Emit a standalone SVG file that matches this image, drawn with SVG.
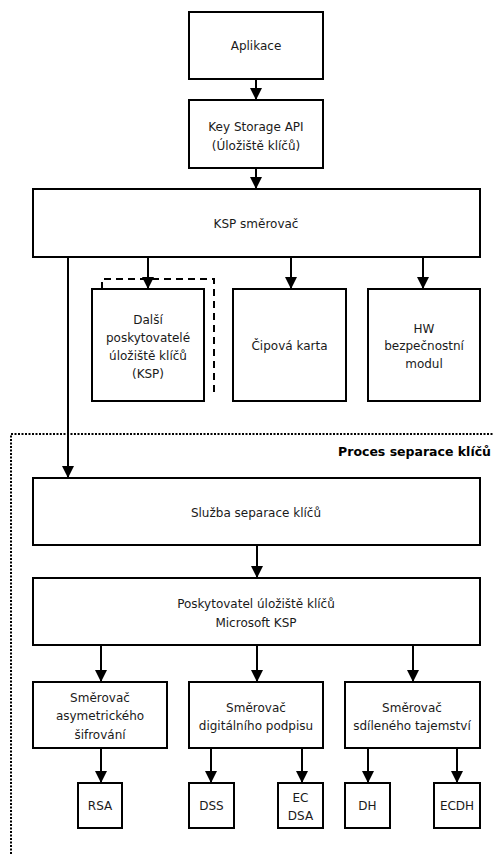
<svg xmlns="http://www.w3.org/2000/svg" width="493" height="854" viewBox="0 0 493 854">
  <style>
    .box { fill: #ffffff; stroke: #000000; stroke-width: 2; }
    .lbl { font-family: "DejaVu Sans", Verdana, sans-serif; font-size: 12px; fill: #1a1a1a; text-anchor: middle; }
    .conn { fill: none; stroke: #000000; stroke-width: 2; }
    .title { font-family: "DejaVu Sans", Verdana, sans-serif; font-size: 12.5px; font-weight: bold; fill: #000000; text-anchor: end; }
  </style>
  <defs>
    <marker id="arrow" viewBox="0 0 12 12" refX="12" refY="6" markerWidth="12" markerHeight="12" markerUnits="userSpaceOnUse" orient="auto">
      <path d="M0,0 L12,6 L0,12 Z" fill="#000000"/>
    </marker>
  </defs>

  <!-- dotted boundary of the separation process -->
  <g id="process-boundary">
    <path d="M11,854 L11,434 L493,434" fill="none" stroke="#000000" stroke-width="2" stroke-dasharray="2,1.5"/>
    <text class="title" x="491" y="456">Proces separace klíčů</text>
  </g>

  <!-- dashed outline behind the other providers -->
  <g id="other-providers-outline">
    <path d="M102,289 L102,279 L214,279 L214,392" fill="none" stroke="#000000" stroke-width="2" stroke-dasharray="7,5"/>
  </g>

  <g id="connectors">
    <line class="conn" x1="256" y1="79" x2="256" y2="100" marker-end="url(#arrow)"/>
    <line class="conn" x1="256" y1="168" x2="256" y2="189" marker-end="url(#arrow)"/>
    <line class="conn" x1="148" y1="257" x2="148" y2="289" marker-end="url(#arrow)"/>
    <line class="conn" x1="291" y1="257" x2="291" y2="289" marker-end="url(#arrow)"/>
    <line class="conn" x1="423" y1="257" x2="423" y2="289" marker-end="url(#arrow)"/>
    <line class="conn" x1="68" y1="257" x2="68" y2="478" marker-end="url(#arrow)"/>
    <line class="conn" x1="257" y1="545" x2="257" y2="578" marker-end="url(#arrow)"/>
    <line class="conn" x1="101" y1="645" x2="101" y2="682" marker-end="url(#arrow)"/>
    <line class="conn" x1="257" y1="645" x2="257" y2="682" marker-end="url(#arrow)"/>
    <line class="conn" x1="413" y1="645" x2="413" y2="682" marker-end="url(#arrow)"/>
    <line class="conn" x1="101" y1="748" x2="101" y2="783" marker-end="url(#arrow)"/>
    <line class="conn" x1="211" y1="748" x2="211" y2="783" marker-end="url(#arrow)"/>
    <line class="conn" x1="302" y1="748" x2="302" y2="783" marker-end="url(#arrow)"/>
    <line class="conn" x1="368" y1="748" x2="368" y2="783" marker-end="url(#arrow)"/>
    <line class="conn" x1="457" y1="748" x2="457" y2="783" marker-end="url(#arrow)"/>
  </g>

  <g id="aplikace">
    <rect class="box" x="189" y="12" width="134" height="67"/>
    <text class="lbl" x="256" y="50">Aplikace</text>
  </g>

  <g id="key-storage-api">
    <rect class="box" x="189" y="100" width="134" height="68"/>
    <text class="lbl" x="256" y="131">Key Storage API</text>
    <text class="lbl" x="256" y="150">(Úložiště klíčů)</text>
  </g>

  <g id="ksp-router">
    <rect class="box" x="33" y="189" width="447" height="68"/>
    <text class="lbl" x="256" y="228">KSP směrovač</text>
  </g>

  <g id="other-providers">
    <rect class="box" x="92" y="289" width="112" height="112"/>
    <text class="lbl" x="148" y="324">Další</text>
    <text class="lbl" x="148" y="342">poskytovatelé</text>
    <text class="lbl" x="148" y="360">úložiště klíčů</text>
    <text class="lbl" x="148" y="378">(KSP)</text>
  </g>

  <g id="smart-card">
    <rect class="box" x="233" y="289" width="113" height="112"/>
    <text class="lbl" x="289.5" y="350">Čipová karta</text>
  </g>

  <g id="hw-module">
    <rect class="box" x="368" y="289" width="112" height="112"/>
    <text class="lbl" x="424" y="333">HW</text>
    <text class="lbl" x="424" y="350">bezpečnostní</text>
    <text class="lbl" x="424" y="368">modul</text>
  </g>

  <g id="key-isolation-service">
    <rect class="box" x="33" y="478" width="447" height="67"/>
    <text class="lbl" x="256" y="517">Služba separace klíčů</text>
  </g>

  <g id="microsoft-ksp">
    <rect class="box" x="33" y="578" width="447" height="67"/>
    <text class="lbl" x="256" y="608">Poskytovatel úložiště klíčů</text>
    <text class="lbl" x="256" y="627">Microsoft KSP</text>
  </g>

  <g id="asym-router">
    <rect class="box" x="33" y="682" width="134" height="66"/>
    <text class="lbl" x="100" y="702">Směrovač</text>
    <text class="lbl" x="100" y="720">asymetrického</text>
    <text class="lbl" x="100" y="739">šifrování</text>
  </g>

  <g id="signature-router">
    <rect class="box" x="189" y="682" width="134" height="66"/>
    <text class="lbl" x="256" y="712">Směrovač</text>
    <text class="lbl" x="256" y="730">digitálního podpisu</text>
  </g>

  <g id="secret-router">
    <rect class="box" x="345" y="682" width="135" height="66"/>
    <text class="lbl" x="412" y="712">Směrovač</text>
    <text class="lbl" x="412" y="730">sdíleného tajemství</text>
  </g>

  <g id="rsa">
    <rect class="box" x="78" y="783" width="44" height="45"/>
    <text class="lbl" x="100" y="810">RSA</text>
  </g>

  <g id="dss">
    <rect class="box" x="189" y="783" width="45" height="45"/>
    <text class="lbl" x="211.5" y="810">DSS</text>
  </g>

  <g id="ecdsa">
    <rect class="box" x="278" y="783" width="45" height="45"/>
    <text class="lbl" x="300.5" y="802">EC</text>
    <text class="lbl" x="300.5" y="820">DSA</text>
  </g>

  <g id="dh">
    <rect class="box" x="345" y="783" width="45" height="45"/>
    <text class="lbl" x="367.5" y="810">DH</text>
  </g>

  <g id="ecdh">
    <rect class="box" x="434" y="783" width="46" height="45"/>
    <text class="lbl" x="457" y="810">ECDH</text>
  </g>
</svg>
